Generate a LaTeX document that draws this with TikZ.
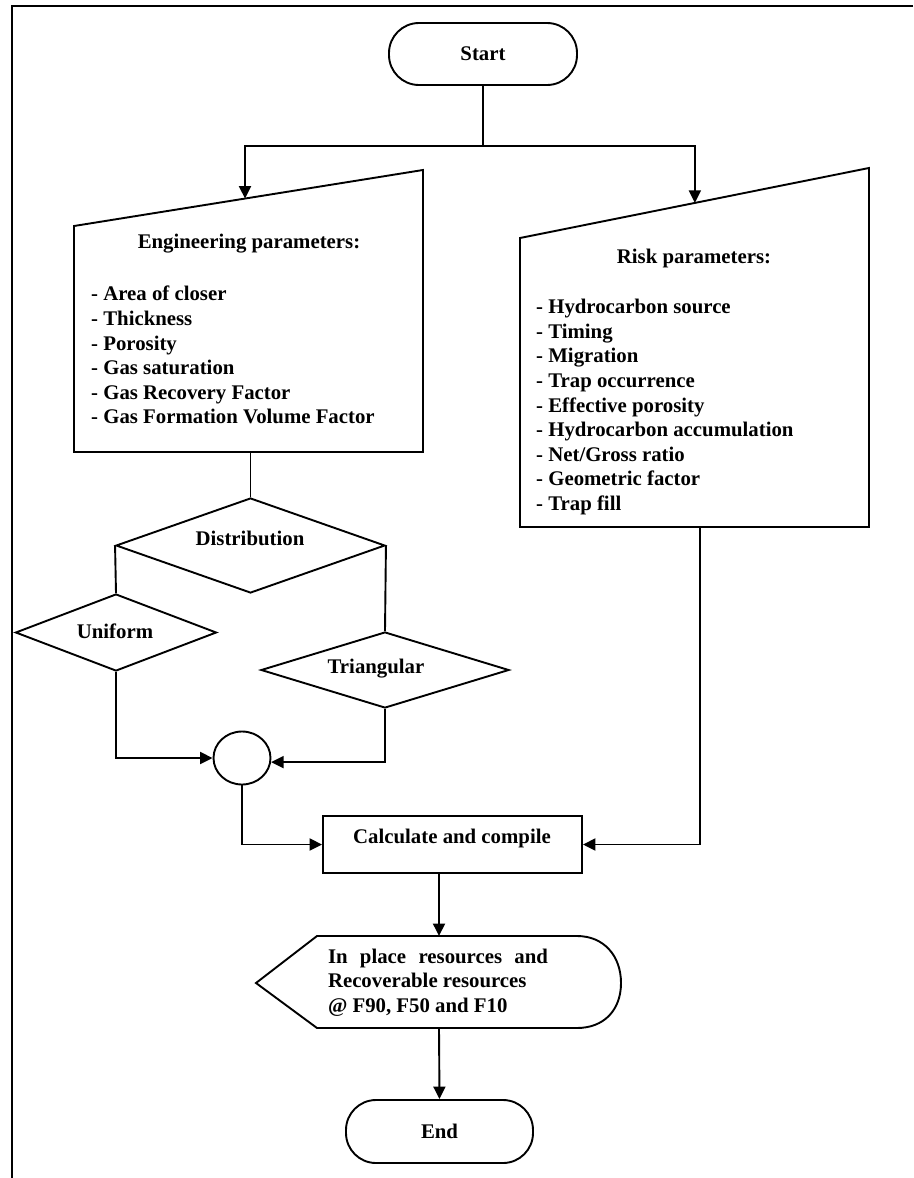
\documentclass[tikz,border=0pt]{standalone}
\usepackage{fontspec}
\setmainfont{Liberation Serif}
\usetikzlibrary{arrows.meta,shapes.geometric,calc}
\begin{document}
\begin{tikzpicture}[x=1pt,y=-1pt,
  every node/.style={font=\bfseries\fontsize{20.8}{24.6}\selectfont, inner sep=0pt},
  line/.style={line width=1.9pt, line join=miter},
  arr/.style={line width=1.9pt, -{Triangle[length=12.5pt,width=12pt]}},
  term/.style={draw, line width=1.9pt, rectangle, rounded corners=30pt},
  dia/.style={draw, line width=1.9pt, diamond, aspect=2.8},
  boxed/.style={draw, line width=1.9pt, rectangle},
  lbl/.style={},
  lst/.style={align=left, anchor=north west},
]
\useasboundingbox (0,0) rectangle (913,1178);
% page frame
\draw[line width=1.6pt] (913,6) -- (12,6) -- (12,1178);

% start
\node[term, minimum width=188pt, minimum height=62pt] (start) at (483,54) {Start};
\coordinate (split) at (483,146);

% engineering parameters (manual input)
\coordinate (eTL) at (74,226);
\coordinate (eTR) at (423,170);
\coordinate (eBR) at (423,452);
\coordinate (eBL) at (74,452);
\draw[line] (eTL) -- (eTR) -- (eBR) -- (eBL) -- cycle;
\path (eTL) -- (eTR) coordinate[pos=0.49] (engin);
\coordinate (eout) at (250.5,452);
\node[lbl] (engtitle) at (249,244) {Engineering parameters:};
\node[lst] (englist) at (91,286) {- Area of closer\\- Thickness\\- Porosity\\- Gas saturation\\- Gas Recovery Factor\\- Gas Formation Volume Factor};

% risk parameters (manual input)
\coordinate (rTL) at (520,238);
\coordinate (rTR) at (869,168);
\coordinate (rBR) at (869,527);
\coordinate (rBL) at (520,527);
\draw[line] (rTL) -- (rTR) -- (rBR) -- (rBL) -- cycle;
\path (rTL) -- (rTR) coordinate[pos=0.501] (riskin);
\coordinate (rout) at (700,527);
\node[lbl] (risktitle) at (694,258) {Risk parameters:};
\node[lst] (risklist) at (536,299) {- Hydrocarbon source\\- Timing\\- Migration\\- Trap occurrence\\- Effective porosity\\- Hydrocarbon accumulation\\- Net/Gross ratio\\- Geometric factor\\- Trap fill};

% distribution diamonds
\node[dia, minimum width=269pt, minimum height=95pt] (dist) at (250.5,545.5) {};
\node[lbl] (distlbl) at (250,538) {Distribution};
\node[dia, minimum width=201pt, minimum height=77pt] (uni) at (116,632.5) {};
\node[lbl] (unilbl) at (115,631) {Uniform};
\node[dia, minimum width=248pt, minimum height=76pt] (tri) at (385,670) {};
\node[lbl] (trilbl) at (376,669) {Triangular};

% merge circle
\node[draw, line width=1.9pt, ellipse, minimum width=57pt, minimum height=53pt] (merge) at (242,758) {};

% calculate
\node[boxed, minimum width=259pt, minimum height=57pt] (calc) at (452.5,844.5) {};
\node[lbl] (calclbl) at (452,838) {Calculate and compile};

% output (display)
\coordinate (oL) at (256,983);
\coordinate (oTL) at (317,936);
\coordinate (oTR) at (577,936);
\coordinate (oR) at (621,983);
\coordinate (oBR) at (577,1028);
\coordinate (oBL) at (317,1028);
\draw[line] (oL) -- (oTL) -- (oTR) .. controls (604,936) and (621,956) .. (oR)
  .. controls (621,1010) and (604,1028) .. (oBR) -- (oBL) -- cycle;
\coordinate (otop) at (439,936);
\coordinate (obot) at (439,1028);
\node[align=left] (outtxt) at (438,982.5) {\makebox[220pt][s]{In place resources and}\\Recoverable resources\\@ F90, F50 and F10};

% end
\node[term, minimum width=187pt, minimum height=63pt] (end) at (439.5,1131.5) {End};

% connectors
\draw[line] (start.south) -- (split);
\draw[arr] (split) -| (engin);
\draw[arr] (split) -| (riskin);
\draw[line] (eout) -- (dist.north);
\draw[line] (dist.west) -- (uni.north);
\draw[line] (dist.east) -- (tri.north);
\draw[arr] (uni.south) |- (merge.west);
\draw[arr] (tri.south) |- (merge.-8);
\draw[arr] (merge.south) |- (calc.west);
\draw[arr] (rout) |- (calc.east);
\draw[arr] ([xshift=-13.5pt]calc.south) -- (otop);
\draw[arr] (obot) -- (end.north);
\end{tikzpicture}
\end{document}
